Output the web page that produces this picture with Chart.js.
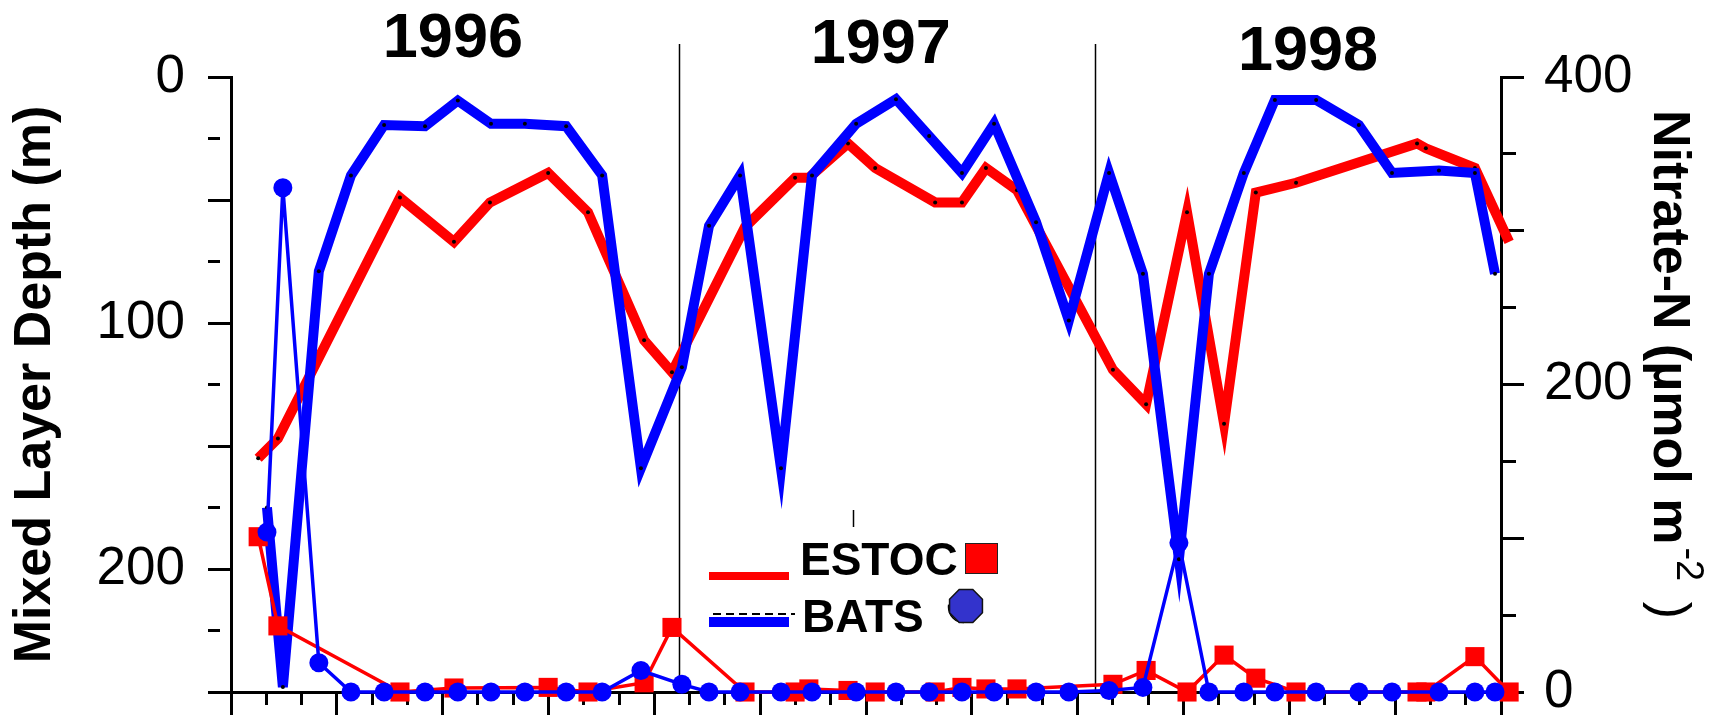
<!DOCTYPE html>
<html>
<head>
<meta charset="utf-8">
<script src="https://cdn.jsdelivr.net/npm/chart.js@4.4.1/dist/chart.umd.min.js"></script>
<style>
  html, body { margin: 0; padding: 0; background: #fff; }
</style>
</head>
<body>
<canvas id="chart" width="1722" height="724"></canvas>
<script>
// time axis = months since 1 Jan 1996
const yearLabels = ["1996", "1997", "1998"];
const yearMid = [6.29, 18.42, 30.53];
const yearBounds = [12.7, 24.49];

// BATS: mixed layer depth (m) and nitrate (umol m-2)
const batsMonth = [1.02, 1.47, 2.49, 3.40, 4.34, 5.50, 6.43, 7.37, 8.33, 9.50, 10.52, 11.62,
  12.78, 13.55, 14.43, 15.59, 16.47, 17.72, 18.85, 19.79, 20.72, 21.63, 22.82, 23.75,
  24.89, 25.85, 26.87, 27.72, 28.71, 29.59, 30.76, 31.97, 32.91, 34.24, 35.26, 35.83];
const batsMld = [175, 248, 79, 40, 19.5, 20, 9.6, 19, 19, 20, 40, 159,
  118, 60.5, 40, 159, 40, 19, 9, 24, 39, 19, 59, 99,
  39, 80, 196, 80, 39, 9.3, 9.3, 19.5, 39, 38, 39, 80];
const batsNitrate = [104, 328, 19, 0, 0, 0, 0, 0, 0, 0, 0, 14,
  5, 0, 0, 0, 0, 0, 0, 0, 0, 0, 0, 0,
  1, 3, 97, 0, 0, 0, 0, 0, 0, 0, 0, 0];

// ESTOC
const estocMonth = [0.77, 1.33, 4.79, 6.32, 7.34, 8.99, 10.12, 11.71, 12.50, 14.57,
  15.99, 16.38, 17.49, 18.26, 19.96, 20.72, 21.40, 22.28, 25.00, 25.94,
  27.10, 28.15, 29.05, 30.19, 33.62, 33.87, 35.26, 36.23];
const estocMld = [155, 147, 49, 67, 51, 39, 55, 107, 120, 61,
  41, 41, 27, 37, 51, 51, 37, 46, 119, 133,
  55, 141, 47, 43, 27, 29, 37, 67];
const estocNitrate = [101, 43, 0, 2.6, null, 3, 0, 6, 42, 0,
  0, 2, 1, 0, 0, 3, 2, 2, 5, 14,
  0, 24, 9, 0, 0, 0, 23, 0];

const mldTickLabels = [0, 100, 200];
const nitrateTickLabels = [0, 200, 400];

const FONT = "'Liberation Sans', Arial, sans-serif";
Chart.defaults.font.family = FONT;
Chart.defaults.color = '#000';

const pts = (xs, ys) => xs.map((x, i) => ({ x: x, y: ys[i] }));

const decor = {
  id: 'decor',
  beforeDatasetsDraw(chart) {
    const { ctx, chartArea } = chart;
    const x = chart.scales.x;
    ctx.save();
    ctx.strokeStyle = '#000';
    ctx.lineWidth = 1.5;
    yearBounds.forEach(m => {
      const px = Math.round(x.getPixelForValue(m)) + 0.5;
      ctx.beginPath();
      ctx.moveTo(px, 44);
      ctx.lineTo(px, chartArea.bottom);
      ctx.stroke();
    });
    ctx.restore();
  },
  afterDraw(chart) {
    const { ctx } = chart;
    const x = chart.scales.x;
    ctx.save();
    ctx.fillStyle = '#000';

    // year captions
    ctx.font = "bold 63px " + FONT;
    ctx.textAlign = 'center';
    ctx.textBaseline = 'alphabetic';
    const base = [57, 63, 70];
    yearLabels.forEach((t, i) => ctx.fillText(t, x.getPixelForValue(yearMid[i]), base[i]));

    // right axis title, with superscript
    ctx.save();
    ctx.translate(1654, 110);
    ctx.rotate(Math.PI / 2);
    ctx.textAlign = 'left';
    ctx.font = "bold 52px " + FONT;
    const main = 'Nitrate-N (\u00B5mol m';
    ctx.fillText(main, 0, 0);
    let w = ctx.measureText(main).width + 3;
    ctx.font = "38px " + FONT;
    ctx.fillText('-2', w, -23);
    w += ctx.measureText('-2').width + 6;
    ctx.font = "52px " + FONT;
    ctx.fillText(' )', w, 0);
    ctx.restore();

    // legend
    ctx.lineCap = 'butt';
    ctx.strokeStyle = '#ff0000';
    ctx.lineWidth = 8;
    ctx.beginPath(); ctx.moveTo(709, 576); ctx.lineTo(789, 576); ctx.stroke();
    ctx.strokeStyle = '#000';
    ctx.lineWidth = 2;
    ctx.setLineDash([8, 5]);
    ctx.beginPath(); ctx.moveTo(713, 614); ctx.lineTo(795, 614); ctx.stroke();
    ctx.setLineDash([]);
    ctx.strokeStyle = '#0000ff';
    ctx.lineWidth = 10;
    ctx.beginPath(); ctx.moveTo(709, 622); ctx.lineTo(789, 622); ctx.stroke();

    ctx.font = "bold 46px " + FONT;
    ctx.textAlign = 'left';
    ctx.fillText('ESTOC', 800, 575);
    ctx.fillText('BATS', 802, 632);

    ctx.fillStyle = '#ff0000';
    ctx.fillRect(965, 543, 33, 31);
    ctx.strokeStyle = '#222';
    ctx.lineWidth = 1;
    ctx.strokeRect(965.5, 543.5, 32, 30);

    ctx.strokeStyle = '#000';
    ctx.lineWidth = 1.5;
    ctx.beginPath();
    ctx.arc(964, 607, 15.5, 0.5 * Math.PI, 1.05 * Math.PI);
    ctx.stroke();

    ctx.fillStyle = '#3333cc';
    ctx.beginPath();
    for (let k = 0; k < 8; k++) {
      const a = Math.PI / 8 + k * Math.PI / 4;
      const px = 966 + 17.8 * Math.cos(a), py = 606 + 17.8 * Math.sin(a);
      if (k === 0) ctx.moveTo(px, py); else ctx.lineTo(px, py);
    }
    ctx.closePath();
    ctx.fill();
    ctx.strokeStyle = '#111';
    ctx.lineWidth = 1.5;
    ctx.stroke();

    ctx.strokeStyle = '#000';
    ctx.lineWidth = 1.5;
    ctx.beginPath(); ctx.moveTo(853.5, 510); ctx.lineTo(853.5, 527); ctx.stroke();
    ctx.restore();
  }
};

const tickGrid = (isMajor, shortLen) => ({
  drawOnChartArea: false,
  color: '#000',
  tickColor: '#000',
  tickWidth: 3,
  tickLength: 23,
  tickBorderDash: c => (c.tick && !isMajor(c.tick.value)) ? [shortLen, 60] : []
});

new Chart(document.getElementById('chart'), {
  type: 'line',
  data: {
    datasets: [
      {
        label: 'ESTOC MLD',
        data: pts(estocMonth, estocMld),
        yAxisID: 'y',
        borderColor: '#ff0000',
        borderWidth: 10,
        pointRadius: 2,
        pointBackgroundColor: '#000',
        pointBorderWidth: 0,
        clip: false,
        order: 4
      },
      {
        label: 'BATS MLD',
        data: pts(batsMonth, batsMld),
        yAxisID: 'y',
        borderColor: '#0000ff',
        borderWidth: 10,
        pointRadius: 2,
        pointBackgroundColor: '#000',
        pointBorderWidth: 0,
        clip: false,
        order: 3
      },
      {
        label: 'ESTOC nitrate',
        data: pts(estocMonth, estocNitrate),
        yAxisID: 'y2',
        borderColor: '#ff0000',
        borderWidth: 3.5,
        pointStyle: 'rect',
        pointRadius: 13.5,
        pointBackgroundColor: '#ff0000',
        pointBorderWidth: 0,
        spanGaps: true,
        clip: false,
        order: 2
      },
      {
        label: 'BATS nitrate',
        data: pts(batsMonth, batsNitrate),
        yAxisID: 'y2',
        borderColor: '#0000ff',
        borderWidth: 3.5,
        pointStyle: 'circle',
        pointRadius: 9.5,
        pointBackgroundColor: '#0000ff',
        pointBorderWidth: 0,
        clip: false,
        order: 1
      }
    ]
  },
  options: {
    responsive: false,
    animation: false,
    layout: { padding: { top: 77, left: 0, right: 0, bottom: 0 } },
    elements: { line: { tension: 0 } },
    plugins: { legend: { display: false }, tooltip: { enabled: false } },
    scales: {
      x: {
        type: 'linear',
        position: 'bottom',
        min: 0,
        max: 36,
        ticks: { stepSize: 1, autoSkip: false, callback: () => '' },
        grid: tickGrid(v => v % 3 === 0, 11),
        border: { color: '#000', width: 3 },
        afterFit: s => { s.height = 32; s.paddingLeft = 0; s.paddingRight = 0; }
      },
      y: {
        type: 'linear',
        position: 'left',
        reverse: true,
        min: 0,
        max: 250,
        ticks: {
          stepSize: 25,
          autoSkip: false,
          padding: 23,
          font: { size: 53 },
          callback: v => mldTickLabels.includes(v) ? String(v) : ''
        },
        grid: tickGrid(v => v % 50 === 0, 12),
        border: { color: '#000', width: 3 },
        title: {
          display: true,
          text: 'Mixed Layer Depth (m)',
          font: { size: 52, weight: 'bold' },
          padding: { top: 4, bottom: 0 }
        },
        afterFit: s => { s.width = 231; s.paddingTop = 0; s.paddingBottom = 0; }
      },
      y2: {
        type: 'linear',
        position: 'right',
        min: 0,
        max: 400,
        ticks: {
          stepSize: 50,
          autoSkip: false,
          padding: 20,
          font: { size: 53 },
          callback: v => nitrateTickLabels.includes(v) ? String(v) : ''
        },
        grid: tickGrid(v => v % 100 === 0, 13),
        border: { color: '#000', width: 3 },
        afterFit: s => { s.width = 221; s.paddingTop = 0; s.paddingBottom = 0; }
      }
    }
  },
  plugins: [decor]
});
</script>
</body>
</html>
